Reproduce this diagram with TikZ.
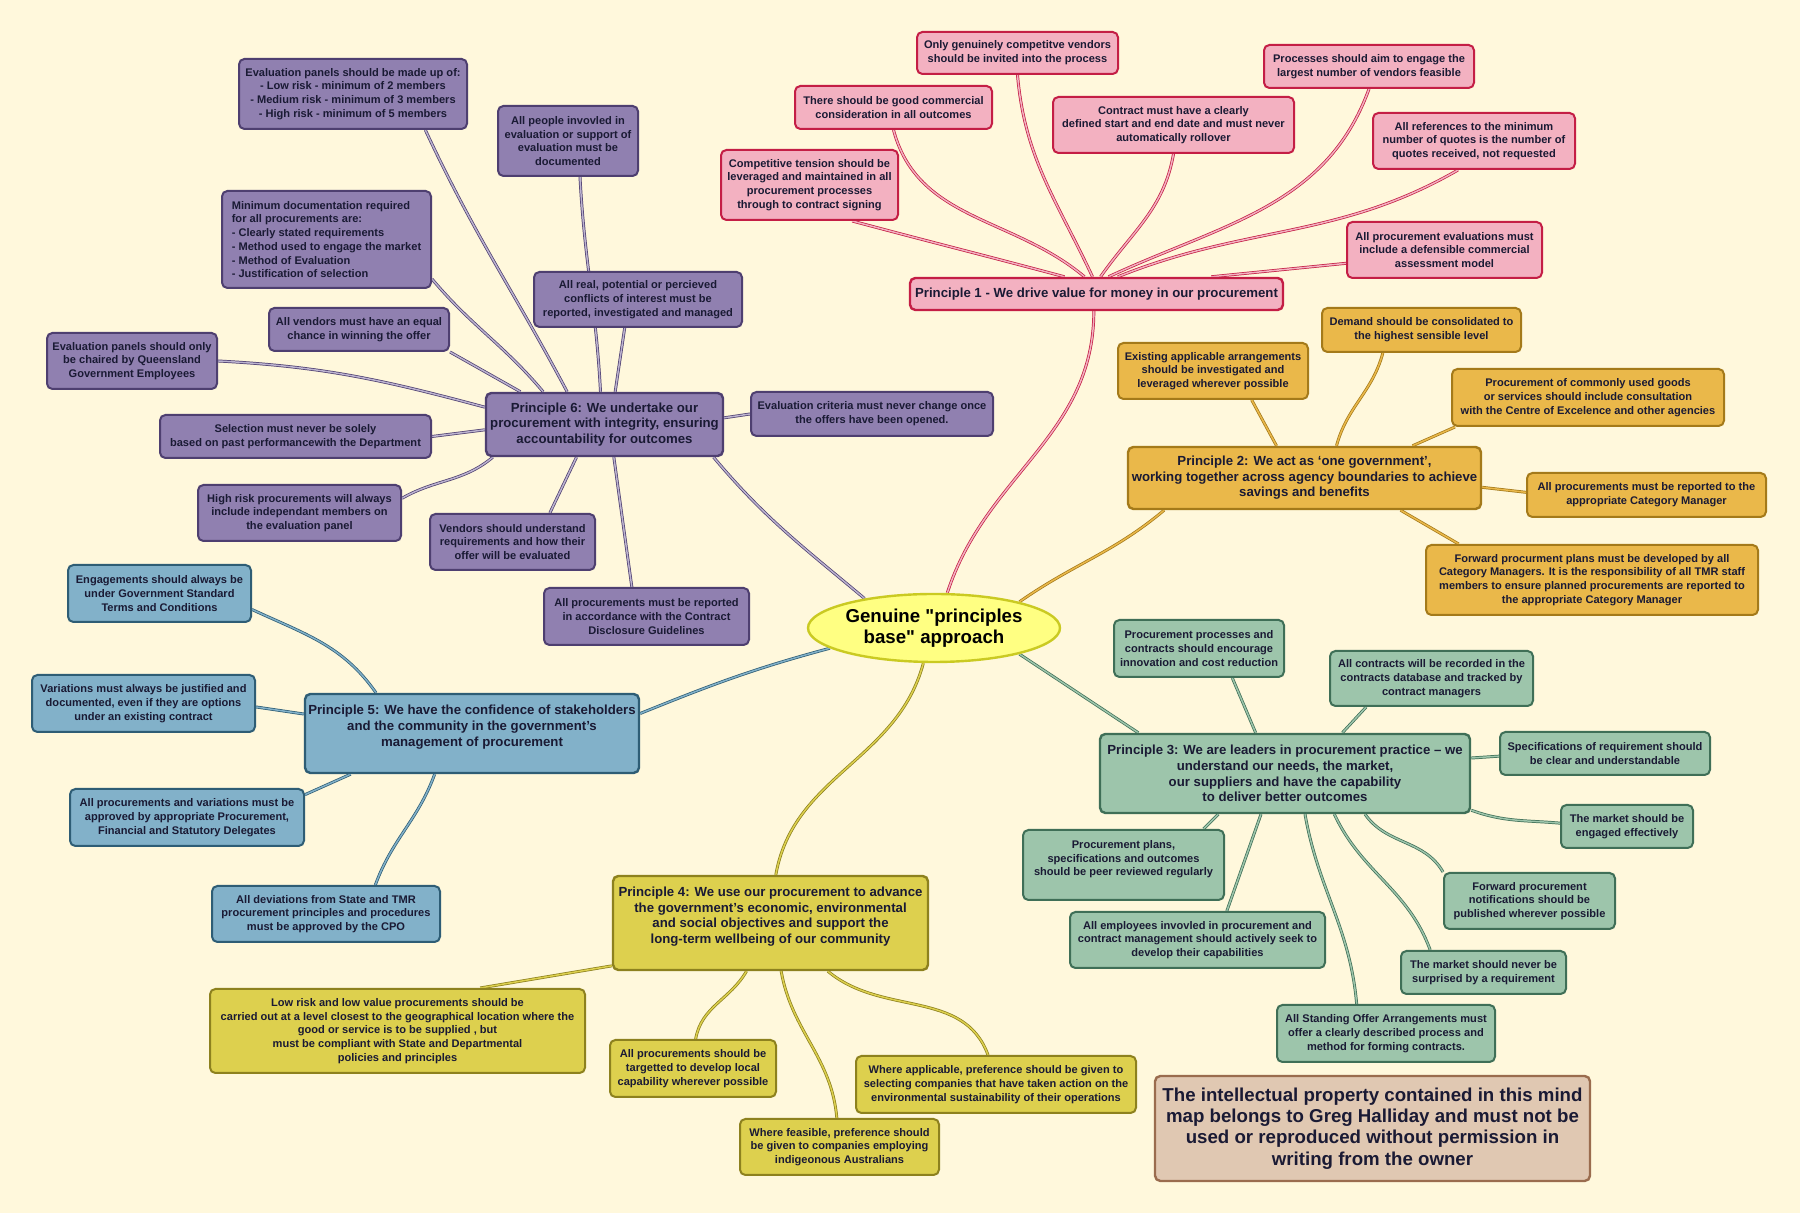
\documentclass[tikz,border=0pt]{standalone}
\usepackage{fontspec}
\setmainfont{Liberation Sans}
\newfontfamily\plainsans{Liberation Sans}
\usetikzlibrary{shapes.geometric, positioning, calc}
\pgfdeclarelayer{bg}
\pgfsetlayers{bg,main}

\definecolor{bgcream}{HTML}{FFF8DC}
\definecolor{txt}{HTML}{1A1A34}
\definecolor{pinkfill}{HTML}{F3B1C1}
\definecolor{pinkdraw}{HTML}{C41E45}
\definecolor{purpfill}{HTML}{9080B0}
\definecolor{purpdraw}{HTML}{4E3F70}
\definecolor{orngfill}{HTML}{EAB84A}
\definecolor{orngdraw}{HTML}{A47A1A}
\definecolor{tealfill}{HTML}{9DC5AB}
\definecolor{tealdraw}{HTML}{3F6F57}
\definecolor{bluefill}{HTML}{82B1C9}
\definecolor{bluedraw}{HTML}{2E5D75}
\definecolor{yelwfill}{HTML}{DDD04E}
\definecolor{yelwdraw}{HTML}{8D811E}
\definecolor{rootfill}{HTML}{FFFF82}
\definecolor{rootdraw}{HTML}{CACA22}
\definecolor{notefill}{HTML}{E0C8B2}
\definecolor{notedraw}{HTML}{9A6C4E}

\newcommand{\leaffont}{\fontsize{8.3}{10.3}\selectfont\bfseries}
\newcommand{\princfont}{\fontsize{9.9}{11.7}\selectfont\bfseries}
\newcommand{\rootfont}{\plainsans\fontsize{14}{15.6}\selectfont\bfseries}
\newcommand{\notefont}{\fontsize{14}{16}\selectfont\bfseries}

\tikzstyle{box} = [rectangle, rounded corners=4pt, line width=1.5pt, align=center, inner sep=2pt, text=txt, font=\leaffont]
\tikzstyle{pk} = [box, draw=pinkdraw, fill=pinkfill]
\tikzstyle{pu} = [box, draw=purpdraw, fill=purpfill]
\tikzstyle{og} = [box, draw=orngdraw, fill=orngfill]
\tikzstyle{tl} = [box, draw=tealdraw, fill=tealfill]
\tikzstyle{bl} = [box, draw=bluedraw, fill=bluefill]
\tikzstyle{yw} = [box, draw=yelwdraw, fill=yelwfill]
\tikzstyle{prin} = [font=\princfont, line width=1.8pt]
\tikzstyle{link} = [line width=0.55pt, double distance=1.1pt]
\tikzstyle{pkln} = [link, draw=pinkdraw, double=pinkfill]
\tikzstyle{puln} = [link, draw=purpdraw, double=purpfill!60!white]
\tikzstyle{ogln} = [link, draw=orngdraw, double=orngfill]
\tikzstyle{tlln} = [link, draw=tealdraw, double=tealfill]
\tikzstyle{blln} = [link, draw=bluedraw, double=bluefill]
\tikzstyle{ywln} = [link, draw=yelwdraw, double=yelwfill]
\tikzset{wh/.style 2 args={minimum width=#1*0.75pt, minimum height=#2*0.75pt}}

\begin{document}
\begin{tikzpicture}[x=0.75pt, y=0.75pt]
    \useasboundingbox (0,0) rectangle (1800,1213);

    % Centre
    \node[ellipse, draw=rootdraw, fill=rootfill, line width=1.8pt, inner sep=0pt, wh={252}{68}, align=center, font=\rootfont] (root) at (934,585) {Genuine "principles\\base" approach};

    % Principle 1
    \node[pk, prin, wh={373}{32}] (p1) at (1096.5,919) {Principle 1 - We drive value for money in our procurement};
    \node[pk, wh={201}{42}] (pc1) at (1017.5,1160) {Only genuinely competitve vendors\\should be invited into the process};
    \node[pk, wh={197}{43}] (pc2) at (893.5,1105.5) {There should be good commercial\\consideration in all outcomes};
    \node[pk, wh={177}{70}] (pc3) at (809.5,1028) {Competitive tension should be\\leveraged and maintained in all\\procurement processes\\through to contract signing};
    \node[pk, wh={241}{56}] (pc4) at (1173.5,1088) {Contract must have a clearly\\defined start and end date and must never\\automatically rollover};
    \node[pk, wh={210}{43}] (pc5) at (1369,1146.5) {Processes should aim to engage the\\largest number of vendors feasible};
    \node[pk, wh={202}{56}] (pc6) at (1474,1072) {All references to the minimum\\number of quotes is the number of\\quotes received, not requested};
    \node[pk, wh={195}{56}] (pc7) at (1444.5,963) {All procurement evaluations must\\include a defensible commercial\\assessment model};

    % Principle 6
    \node[pu, prin, wh={237}{63}] (p6) at (604.5,788.5) {Principle 6: We undertake our\\procurement with integrity, ensuring\\accountability for outcomes};
    \node[pu, wh={228}{70}] (qa) at (353,1119) {Evaluation panels should be made up of:\\- Low risk - minimum of 2 members\\- Medium risk - minimum of 3 members\\- High risk - minimum of 5 members};
    \node[pu, wh={140}{70}] (qb) at (568,1072) {All people invovled in\\evaluation or support of\\evaluation must be\\documented};
    \node[pu, wh={209}{97}, align=left] (qc) at (326.5,973.5) {Minimum documentation required\\for all procurements are:\\- Clearly stated requirements\\- Method used to engage the market\\- Method of Evaluation\\- Justification of selection};
    \node[pu, wh={180}{43}] (qd) at (359,883.5) {All vendors must have an equal\\chance in winning the offer};
    \node[pu, wh={170}{56}] (qe) at (132,852) {Evaluation panels should only\\be chaired by Queensland\\Government Employees};
    \node[pu, wh={208}{55}] (qf) at (638,913.5) {All real, potential or percieved\\conflicts of interest must be\\reported, investigated and managed};
    \node[pu, wh={271}{43}] (qg) at (295.5,776.5) {Selection must never be solely\\based on past performancewith the Department};
    \node[pu, wh={203}{56}] (qh) at (299.5,700) {High risk procurements will always\\include independant members on\\the evaluation panel};
    \node[pu, wh={165}{56}] (qi) at (512.5,671) {Vendors should understand\\requirements and how their\\offer will be evaluated};
    \node[pu, wh={205}{57}] (qj) at (646.5,596.5) {All procurements must be reported\\in accordance with the Contract\\Disclosure Guidelines};
    \node[pu, wh={242}{44}] (qk) at (872,799) {Evaluation criteria must never change once\\the offers have been opened.};

    % Principle 2
    \node[og, prin, wh={353}{62}] (p2) at (1304.5,735) {Principle 2: We act as ‘one government’,\\working together across agency boundaries to achieve\\savings and benefits};
    \node[og, wh={190}{56}] (oa) at (1213,842) {Existing applicable arrangements\\should be investigated and\\leveraged wherever possible};
    \node[og, wh={199}{44}] (ob) at (1421.5,883) {Demand should be consolidated to\\the highest sensible level};
    \node[og, wh={272}{57}] (oc) at (1588,815.5) {Procurement of commonly used goods\\or services should include consultation\\with the Centre of Excelence and other agencies};
    \node[og, wh={239}{44}] (od) at (1646.5,718) {All procurements must be reported to the\\appropriate Category Manager};
    \node[og, wh={332}{70}] (oe) at (1592,633) {Forward procurment plans must be developed by all\\Category Managers. It is the responsibility of all TMR staff\\members to ensure planned procurements are reported to\\the appropriate Category Manager};

    % Principle 3
    \node[tl, prin, wh={370}{79}] (p3) at (1285,439.5) {Principle 3: We are leaders in procurement practice – we\\understand our needs, the market,\\our suppliers and have the capability\\to deliver better outcomes};
    \node[tl, wh={170}{57}] (ta) at (1199,564.5) {Procurement processes and\\contracts should encourage\\innovation and cost reduction};
    \node[tl, wh={203}{55}] (tb) at (1431.5,534.5) {All contracts will be recorded in the\\contracts database and tracked by\\contract managers};
    \node[tl, wh={210}{43}] (tc) at (1605,459.5) {Specifications of requirement should\\be clear and understandable};
    \node[tl, wh={132}{43}] (td) at (1627,386.5) {The market should be\\engaged effectively};
    \node[tl, wh={201}{70}] (te) at (1123.5,348) {Procurement plans,\\specifications and outcomes\\should be peer reviewed regularly\\~};
    \node[tl, wh={171}{56}] (tf) at (1529.5,312) {Forward procurement\\notifications should be\\published wherever possible};
    \node[tl, wh={255}{56}] (tg) at (1197.5,273) {All employees invovled in procurement and\\contract management should actively seek to\\develop their capabilities};
    \node[tl, wh={165}{43}] (th) at (1483.5,240.5) {The market should never be\\surprised by a requirement};
    \node[tl, wh={218}{57}] (ti) at (1386,179.5) {All Standing Offer Arrangements must\\offer a clearly described process and\\method for forming contracts.};

    % Principle 5
    \node[bl, prin, wh={334}{79}] (p5) at (472,479.5) {Principle 5: We have the confidence of stakeholders\\and the community in the government’s\\management of procurement\\~};
    \node[bl, wh={183}{57}] (ba) at (159.5,619.5) {Engagements should always be\\under Government Standard\\Terms and Conditions};
    \node[bl, wh={223}{57}] (bb) at (143.5,509.5) {Variations must always be justified and\\documented, even if they are options\\under an existing contract};
    \node[bl, wh={234}{57}] (bc) at (187,395.5) {All procurements and variations must be\\approved by appropriate Procurement,\\Financial and Statutory Delegates};
    \node[bl, wh={228}{56}] (bd) at (326,299) {All deviations from State and TMR\\procurement principles and procedures\\must be approved by the CPO};

    % Principle 4
    \node[yw, prin, wh={315}{94}] (p4) at (770.5,290) {Principle 4: We use our procurement to advance\\the government’s economic, environmental\\and social objectives and support the\\long-term wellbeing of our community\\~};
    \node[yw, wh={375}{84}] (ya) at (397.5,182) {Low risk and low value procurements should be\\carried out at a level closest to the geographical location where the\\good or service is to be supplied , but\\must be compliant with State and Departmental\\policies and principles};
    \node[yw, wh={166}{57}] (yb) at (693,144.5) {All procurements should be\\targetted to develop local\\capability wherever possible};
    \node[yw, wh={280}{57}] (yc) at (996,128.5) {Where applicable, preference should be given to\\selecting companies that have taken action on the\\environmental sustainability of their operations};
    \node[yw, wh={199}{56}] (yd) at (839.5,66) {Where feasible, preference should\\be given to companies employing\\indigeonous Australians};

    % Notice
    \node[box, draw=notedraw, fill=notefill, line width=1.8pt, font=\notefont, wh={435}{105}] (ip) at (1372.5,84.5) {The intellectual property contained in this mind\\map belongs to Greg Halliday and must not be\\used or reproduced without permission in\\writing from the owner};

    \begin{pgfonlayer}{bg}
    \fill[bgcream] (0,0) rectangle (1800,1213);

    % Principle 1 links
    \draw[pkln] ([xshift=32pt]pc3.south) to[out=-15,in=165] ([xshift=-24pt]p1.north);
    \draw[pkln] (pc2.south) to[out=-75,in=140] ([xshift=-9pt]p1.north);
    \draw[pkln] (pc1.south) to[out=-85,in=115] ([xshift=-3pt]p1.north);
    \draw[pkln] (pc4.south) to[out=-100,in=55] ([xshift=3pt]p1.north);
    \draw[pkln] (pc5.south) to[out=-110,in=25] ([xshift=9pt]p1.north);
    \draw[pkln] ([xshift=-12pt]pc6.south) to[out=-150,in=22] ([xshift=16pt]p1.north);
    \draw[pkln] ([yshift=-10pt]pc7.west) -- ([xshift=86pt]p1.north);
    \draw[pkln] ([xshift=-2pt]p1.south) to[out=-90,in=72] ([xshift=10pt]root.north);

    % Principle 6 links
    \draw[puln] ([xshift=-32pt]qa.south east) to[out=-65,in=118] ([xshift=-28pt]p6.north);
    \draw[puln] ([xshift=9pt]qb.south) to[out=-87,in=93] ([xshift=-3pt]p6.north);
    \draw[puln] ([xshift=-10pt]qf.south) -- ([xshift=8pt]p6.north);
    \draw[puln] ([yshift=7.5pt]qc.south east) to[out=-50,in=130] ([xshift=-46pt]p6.north);
    \draw[puln] (qd.south east) -- ([xshift=-63pt]p6.north);
    \draw[puln] (qe.east) to[out=-3,in=165] ([yshift=13pt]p6.west);
    \draw[puln] (qg.east) -- ([yshift=-4pt]p6.west);
    \draw[puln] ([yshift=11pt]qh.east) to[out=30,in=-140] ([xshift=6pt]p6.south west);
    \draw[puln] ([xshift=28pt]qi.north) -- ([xshift=-21pt]p6.south);
    \draw[puln] ([xshift=-11pt]qj.north) -- ([xshift=7pt]p6.south);
    \draw[puln] ([yshift=5pt]p6.east) -- (qk.west);
    \draw[puln] ([xshift=-8pt]p6.south east) to[out=-50,in=140] (root.157);

    % Principle 2 links
    \draw[ogln] ([xshift=29pt]oa.south) -- ([xshift=-21pt]p2.north);
    \draw[ogln] ([xshift=-29pt]ob.south) to[out=-105,in=75] ([xshift=24pt]p2.north);
    \draw[ogln] ([xshift=3pt]oc.south west) -- ([xshift=81pt]p2.north);
    \draw[ogln] ([yshift=2pt]od.west) -- ([yshift=-7pt]p2.east);
    \draw[ogln] ([xshift=-100pt]oe.north) -- ([xshift=72pt]p2.south);
    \draw[ogln] ([xshift=28pt]p2.south west) to[out=-140,in=35] (root.17);

    % Principle 3 links
    \draw[tlln] (root.-17) -- ([xshift=-110pt]p3.north);
    \draw[tlln] ([xshift=25pt]ta.south) -- ([xshift=-22pt]p3.north);
    \draw[tlln] ([xshift=-49pt]tb.south) -- ([xshift=43pt]p3.north);
    \draw[tlln] ([yshift=-2pt]tc.west) -- ([yshift=11.6pt]p3.east);
    \draw[tlln] ([yshift=3pt]p3.south east) to[out=-20,in=175] ([yshift=2.5pt]td.west);
    \draw[tlln] ([xshift=60pt]te.north) -- ([xshift=-50pt]p3.south);
    \draw[tlln] ([xshift=22pt]tg.north) -- ([xshift=-18pt]p3.south);
    \draw[tlln] ([xshift=-22pt]ti.north) to[out=95,in=-80] ([xshift=15pt]p3.south);
    \draw[tlln] ([xshift=-40pt]th.north) to[out=110,in=-65] ([xshift=37pt]p3.south);
    \draw[tlln] (tf.north west) to[out=120,in=-55] ([xshift=60pt]p3.south);

    % Principle 5 links
    \draw[blln] (root.191) to[out=195,in=22] ([yshift=15pt]p5.east);
    \draw[blln] ([yshift=-12pt]ba.east) to[out=-25,in=125] ([xshift=-72pt]p5.north);
    \draw[blln] ([yshift=-2.6pt]bb.east) -- ([yshift=14.6pt]p5.west);
    \draw[blln] ([yshift=-5pt]bc.north east) -- ([xshift=-91pt]p5.south);
    \draw[blln] ([xshift=37pt]bd.north) to[out=70,in=-110] ([xshift=-28pt]p5.south);

    % Principle 4 links
    \draw[ywln] ([xshift=-8pt]root.south) to[out=-105,in=80] ([xshift=4pt]p4.north);
    \draw[ywln] ([xshift=62pt]ya.north) -- ([yshift=4pt]p4.south west);
    \draw[ywln] ([xshift=2pt]yb.north) to[out=80,in=-120] ([xshift=-18pt]p4.south);
    \draw[ywln] ([xshift=-2pt]yd.north) to[out=95,in=-80] ([xshift=8pt]p4.south);
    \draw[ywln] ([xshift=-6pt]yc.north) to[out=110,in=-40] ([xshift=43pt]p4.south);
    \end{pgfonlayer}

\end{tikzpicture}
\end{document}
